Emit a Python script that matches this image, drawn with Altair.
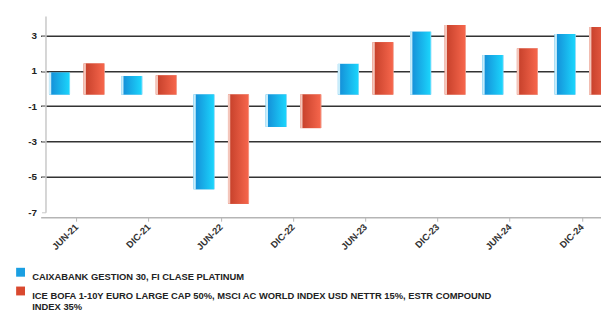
import altair as alt
import pandas as pd

periods = ["JUN-21", "DIC-21", "JUN-22", "DIC-22", "JUN-23", "DIC-23", "JUN-24", "DIC-24"]
fund = [0.90, 0.70, -5.70, -2.17, 1.39, 3.20, 1.89, 3.08]
bench = [1.41, 0.74, -6.52, -2.24, 2.62, 3.59, 2.26, 3.47]
series_names = [
    "CAIXABANK GESTION 30, FI CLASE PLATINUM",
    "ICE BOFA 1-10Y EURO LARGE CAP 50%, MSCI AC WORLD INDEX USD NETTR 15%, ESTR COMPOUND\nINDEX 35%",
]
y_ticks = [3, 1, -1, -3, -5, -7]
baseline = -0.34

rows = []
for p, a, b in zip(periods, fund, bench):
    rows.append({"period": p, "series": series_names[0], "value": a})
    rows.append({"period": p, "series": series_names[1], "value": b})
df = pd.DataFrame(rows)

FONT = "Liberation Sans"

x_enc = alt.X(
    "period:N",
    sort=periods,
    title=None,
    scale=alt.Scale(range=[-8.9, 576.7], paddingInner=0, paddingOuter=0),
    axis=alt.Axis(
        labelAngle=315,
        labelAlign="right",
        labelBaseline="middle",
        labelFont=FONT,
        labelFontWeight="bold",
        labelFontSize=9.5,
        labelColor="#333333",
        labelPadding=4,
        domainColor="#b5b5b5",
        domainWidth=1.5,
        tickColor="#b5b5b5",
        tickSize=4,
        offset=5,
        grid=False,
    ),
)
xoff_enc = alt.XOffset(
    "series:N",
    sort=series_names,
    scale=alt.Scale(domain=series_names, paddingInner=0.39, paddingOuter=0.24),
)
y_enc = alt.Y(
    "value:Q",
    title=None,
    scale=alt.Scale(domain=[-7, 4.1], nice=False, zero=False),
    axis=alt.Axis(
        values=y_ticks,
        labelOverlap=False,
        labelExpr="datum.value < 0 ? '-' + abs(datum.value) : '' + datum.value",
        labelFont=FONT,
        labelFontWeight="bold",
        labelFontSize=10,
        labelColor="#222222",
        labelPadding=5,
        domainColor="#c8c8c8",
        domainWidth=1.5,
        tickColor="#c8c8c8",
        tickSize=4,
        offset=4,
        grid=True,
        gridColor="#333333",
        gridWidth=1.5,
        gridOpacity={"condition": {"test": "datum.value == -7", "value": 0}, "value": 1},
    ),
)

base = alt.Chart(df).encode(
    x=x_enc,
    xOffset=xoff_enc,
    y=y_enc,
    y2=alt.datum(baseline),
)

solid = base.mark_bar().encode(
    color=alt.Color(
        "series:N",
        sort=series_names,
        scale=alt.Scale(domain=series_names, range=["#1a9fe2", "#d9492f"]),
        legend=alt.Legend(
            title=None,
            orient="none",
            legendX=-34,
            legendY=255,
            direction="vertical",
            symbolType="square",
            symbolSize=81,
            symbolStrokeWidth=0,
            labelFont=FONT,
            labelFontWeight="bold",
            labelFontSize=9.5,
            labelColor="#222222",
            labelLimit=700,
            labelOffset=7,
            labelBaseline="top",
            rowPadding=4,
            labelExpr="split(datum.label, '\\n')",
        ),
    ),
)

blue_grad = alt.LinearGradient(
    gradient="linear", x1=0, x2=1, y1=0, y2=0,
    stops=[
        alt.GradientStop(color="#c8edfb", offset=0),
        alt.GradientStop(color="#c8edfb", offset=0.09),
        alt.GradientStop(color="#1593da", offset=0.13),
        alt.GradientStop(color="#1bd3fb", offset=0.95),
        alt.GradientStop(color="#bdefff", offset=1),
    ],
)
red_grad = alt.LinearGradient(
    gradient="linear", x1=0, x2=1, y1=0, y2=0,
    stops=[
        alt.GradientStop(color="#f4c6bb", offset=0),
        alt.GradientStop(color="#f4c6bb", offset=0.09),
        alt.GradientStop(color="#c9432d", offset=0.13),
        alt.GradientStop(color="#f5654b", offset=0.95),
        alt.GradientStop(color="#f8c4b8", offset=1),
    ],
)

grad_blue = base.mark_bar(fill=blue_grad).transform_filter(
    alt.datum.series == series_names[0]
)
grad_red = base.mark_bar(fill=red_grad).transform_filter(
    alt.datum.series == series_names[1]
)

chart = (
    alt.layer(solid, grad_blue, grad_red)
    .properties(
        width=559,
        height=199,
        autosize=alt.AutoSizeParams(type="none"),
        padding={"left": 42, "top": 6, "right": 0, "bottom": 100},
        background="white",
    )
    .configure_view(stroke=None)
)

chart.save("out.html", embed_options={"renderer": "svg", "actions": False})
